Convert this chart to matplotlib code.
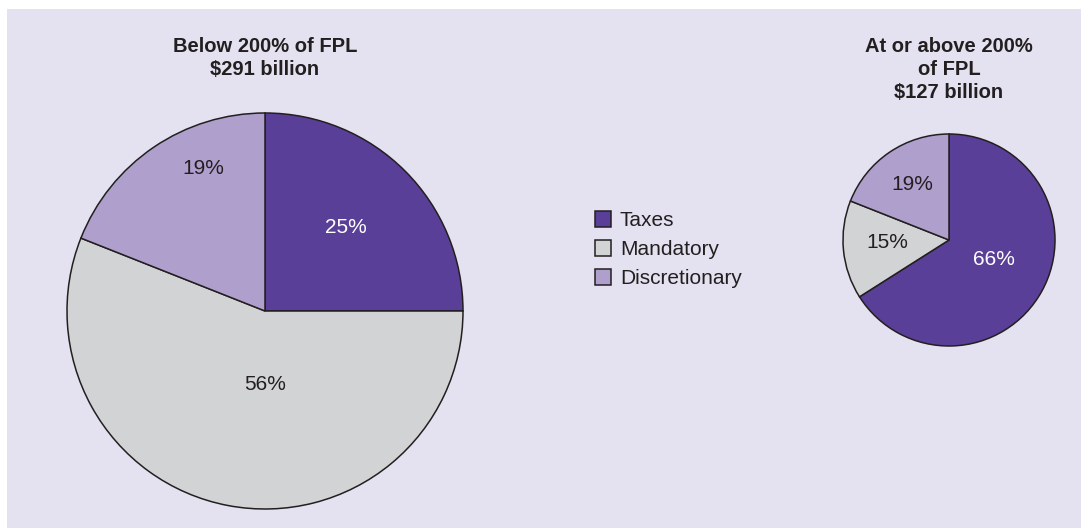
import matplotlib
matplotlib.use("Agg")
import matplotlib.pyplot as plt
from matplotlib.patches import Rectangle

plt.rcParams['font.family'] = ['Liberation Sans', 'DejaVu Sans']

categories = ["Taxes", "Mandatory", "Discretionary"]
below_values = [25, 56, 19]
above_values = [66, 15, 19]
below_title = "Below 200% of FPL\n$291 billion"
above_title = "At or above 200%\nof FPL\n$127 billion"

colors = ["#5a3f98", "#d2d3d5", "#ae9fcc"]
text_colors = ["white", "#231f20", "#231f20"]
edge = "#231f20"
bg = "#e4e2f0"

W, H = 1081, 529
fig = plt.figure(figsize=(W / 100, H / 100), dpi=100, facecolor="white")
ax = fig.add_axes([0, 0, 1, 1])
ax.set_facecolor("white")

ax.add_patch(Rectangle((7, 1), W - 7, H - 10, facecolor=bg, edgecolor="none", zorder=0))

def draw_pie(values, center, radius, label_offsets, title, title_y):
    wedges, _ = ax.pie(values, colors=colors, startangle=90, counterclock=False,
                       center=center, radius=radius,
                       wedgeprops=dict(edgecolor=edge, linewidth=1.1, zorder=2))
    for v, (dx, dy), tc in zip(values, label_offsets, text_colors):
        ax.text(center[0] + dx * radius, center[1] + dy * radius, f"{v}%",
                ha="center", va="center", fontsize=15, color=tc, zorder=3)
    ax.text(center[0], title_y, title, ha="center", va="top", fontsize=14.5,
            fontweight="bold", color=edge, linespacing=1.27, zorder=3)
    return wedges

wedges = draw_pie(below_values, (265, H - 311), 198,
                  [(0.41, 0.42), (0.0, -0.37), (-0.31, 0.72)],
                  below_title, H - 37)
draw_pie(above_values, (949, H - 240), 106,
         [(0.42, -0.18), (-0.58, -0.02), (-0.35, 0.52)],
         above_title, H - 37)

ax.set_xlim(0, W)
ax.set_ylim(0, H)
ax.set_aspect("auto")
ax.axis("off")

fig.legend(wedges, categories, loc="center left",
           bbox_to_anchor=(595 / W, 1 - 249.5 / H), frameon=False,
           fontsize=15, handlelength=0.77, handleheight=0.77,
           handletextpad=0.43, labelspacing=0.48, borderpad=0, borderaxespad=0,
           labelcolor=edge)

fig.savefig("out.png", dpi=100, facecolor="white")
